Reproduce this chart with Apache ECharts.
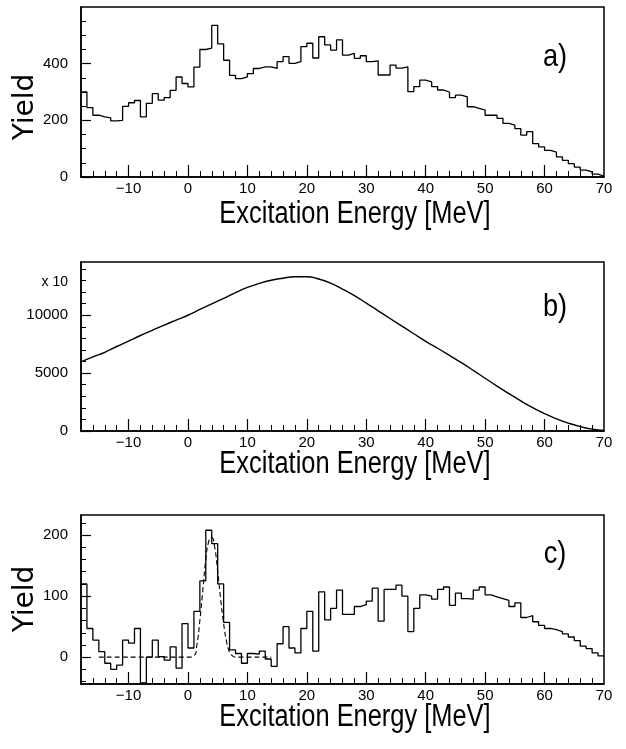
<!DOCTYPE html>
<html>
<head>
<meta charset="utf-8">
<script src="https://cdn.jsdelivr.net/npm/echarts@6/dist/echarts.min.js"></script>
<style>
  html, body { margin: 0; padding: 0; background: #fff; }
  #chart { width: 626px; height: 749px; }
</style>
</head>
<body>
<div id="chart"></div>
<script>
// bin low edges (1 MeV bins), last bin closes at 70
const binLow = [-18,-17,-16,-15,-14,-13,-12,-11,-10,-9,-8,-7,-6,-5,-4,-3,-2,-1,
  0,1,2,3,4,5,6,7,8,9,10,11,12,13,14,15,16,17,18,19,20,21,22,23,24,25,26,27,28,29,
  30,31,32,33,34,35,36,37,38,39,40,41,42,43,44,45,46,47,48,49,50,51,52,53,54,55,56,57,58,59,
  60,61,62,63,64,65,66,67,68,69]
const binEnd = 70

// a) measured spectrum
const yieldA = [300,245,218,212,209,198,200,249,262,270,212,260,294,271,280,306,353,330,
  318,388,450,455,535,470,412,359,347,353,365,383,389,389,383,407,425,401,407,460,472,420,
  495,466,448,484,430,436,419,428,407,410,360,360,395,384,389,301,319,342,336,319,307,300,
  280,289,283,248,242,236,218,218,207,189,183,171,148,160,118,106,94,88,71,59,47,35,24,18,10,3]

// b) background (x 10)
const bEnergy = [-18,-16,-14,-12,-10,-8,-6,-4,-2,0,2,4,6,8,10,12,14,16,18,20,22,24,26,28,30,
  32,34,36,38,40,42,44,46,48,50,52,54,56,58,60,62,64,66,68,70]
const bYield = [5970,6400,6800,7300,7770,8250,8700,9150,9580,10000,10500,10980,11450,11950,
  12400,12750,13020,13200,13320,13330,13130,12780,12250,11700,11050,10380,9720,9060,8400,
  7750,7150,6530,5900,5240,4560,3880,3230,2600,2020,1500,1050,680,380,160,40]

// c) after subtraction
const yieldC = [120,47,28,9,-10,-20,-13,28,23,47,-42,0,28,1,-5,17,-18,55,
  15,75,125,208,186,120,57,12,6,-10,6,5,10,-3,-15,22,50,15,7,47,75,10,
  107,61,80,110,70,70,83,86,92,113,59,111,111,118,100,42,80,102,100,95,111,115,
  85,105,96,95,110,115,102,99,96,93,83,89,65,68,58,52,47,45,42,38,33,27,18,14,7,2]

// c) peak fit (dashed)
const fitEnergy = [-15,0,1,1.5,2,2.5,3,3.5,4,4.5,5,5.5,6,6.5,7,7.5,8,14]
const fitYield = [0,0,2,20,60,110,160,190,196,180,140,95,55,25,8,2,0,0]

// axis ticks / labels
const xLabels = [-10,0,10,20,30,40,50,60,70]
const xMajor = [-10,0,10,20,30,40,50,60]
const xMinor = [-16,-14,-12,-8,-6,-4,-2,2,4,6,8,12,14,16,18,22,24,26,28,32,34,36,38,
  42,44,46,48,52,54,56,58,62,64,66,68]
const yLabelsA = [0,200,400]
const yMinorA = [50,100,150,250,300,350,450,500,550]
const yLabelsB = [0,5000,10000]
const yMinorB = [1000,2000,3000,4000,6000,7000,8000,9000,11000,12000,13000,14000]
const yLabelsC = [0,100,200]
const yMinorC = [-40,-20,20,40,60,80,120,140,160,180,220]

const numFont = '"Liberation Sans", Arial, sans-serif'

const grids = [
  { left: 81, right: 22, top: 7, height: 170 },
  { left: 81, right: 22, top: 262, height: 169 },
  { left: 81, right: 22, top: 515, height: 169 }
]
const yRanges = [[0, 600], [0, 14600], [-44, 233]]
const yLabels = [yLabelsA, yLabelsB, yLabelsC]
const yMinors = [yMinorA, yMinorB, yMinorC]

const steps = (ys) => {
  const pts = binLow.map((x, i) => [x, ys[i]])
  pts.push([binEnd, ys[ys.length - 1]])
  return pts
}

const xAxis = []
const yAxis = []
grids.forEach((g, i) => {
  xAxis.push({
    type: 'value', gridIndex: i, min: -18, max: 70, position: 'bottom',
    axisLine: { show: true, onZero: false, lineStyle: { color: '#000', width: 1.5 } },
    axisTick: { show: true, inside: true, length: 12, customValues: xMajor, lineStyle: { color: '#000', width: 1.2 } },
    axisLabel: {
      show: true, customValues: xLabels, color: '#000', fontSize: 15, margin: 4, fontFamily: numFont,
      formatter: v => (v < 0 ? '\u2212' + Math.abs(v) : String(v))
    },
    splitLine: { show: false }
  })
  xAxis.push({
    type: 'value', gridIndex: i, min: -18, max: 70, position: 'bottom',
    axisLine: { show: false, onZero: false },
    axisTick: { show: true, inside: true, length: 6, customValues: xMinor, lineStyle: { color: '#000', width: 1 } },
    axisLabel: { show: false },
    splitLine: { show: false }
  })
  yAxis.push({
    type: 'value', gridIndex: i, min: yRanges[i][0], max: yRanges[i][1], position: 'left',
    axisLine: { show: true, onZero: false, lineStyle: { color: '#000', width: 1.5 } },
    axisTick: { show: true, inside: true, length: 10, customValues: yLabels[i], lineStyle: { color: '#000', width: 1.2 } },
    axisLabel: {
      show: true, customValues: yLabels[i], color: '#000', fontSize: 15, margin: 13, fontFamily: numFont,
      formatter: v => String(v)
    },
    splitLine: { show: false }
  })
  yAxis.push({
    type: 'value', gridIndex: i, min: yRanges[i][0], max: yRanges[i][1], position: 'left',
    axisLine: { show: false, onZero: false },
    axisTick: { show: true, inside: true, length: 5, customValues: yMinors[i], lineStyle: { color: '#000', width: 1 } },
    axisLabel: { show: false },
    splitLine: { show: false }
  })
})

// condensed look of the original lettering: squeeze a regular face horizontally
const titleText = (y) => ({
  type: 'text', x: 355, y: y, scaleX: 0.82,
  style: { text: 'Excitation Energy [MeV]', font: '31px "Liberation Sans", sans-serif', fill: '#000', textAlign: 'center', textVerticalAlign: 'middle' }
})
const panelTag = (t, y) => ({
  type: 'text', x: 555, y: y, scaleX: 0.85,
  style: { text: t, font: '32px "Liberation Sans", sans-serif', fill: '#000', textAlign: 'center', textVerticalAlign: 'middle' }
})
const yieldText = (y) => ({
  type: 'text', x: 26, y: y, rotation: Math.PI / 2,
  style: { text: 'Yield', font: '28px "DejaVu Sans", sans-serif', fill: '#000', textAlign: 'center', textVerticalAlign: 'middle' }
})

const chart = echarts.init(document.getElementById('chart'), null, { renderer: 'canvas' })
chart.setOption({
  animation: false,
  backgroundColor: '#fff',
  grid: grids.map(g => Object.assign({ show: true, borderColor: '#000', borderWidth: 1.5, backgroundColor: 'transparent' }, g)),
  xAxis: xAxis,
  yAxis: yAxis,
  graphic: [
    titleText(214), titleText(464), titleText(717),
    panelTag('a)', 57), panelTag('b)', 307), panelTag('c)', 554),
    yieldText(107), yieldText(599),
    { type: 'text', x: 68, y: 282, style: { text: 'x 10', font: '14px ' + numFont, fill: '#000', textAlign: 'right', textVerticalAlign: 'middle' } }
  ],
  series: [
    {
      type: 'line', xAxisIndex: 0, yAxisIndex: 0, step: 'end', showSymbol: false,
      data: steps(yieldA), lineStyle: { color: '#000', width: 1.3 }
    },
    {
      type: 'line', xAxisIndex: 2, yAxisIndex: 2, smooth: true, showSymbol: false,
      data: bEnergy.map((x, i) => [x, bYield[i]]), lineStyle: { color: '#000', width: 1.4 }
    },
    {
      type: 'line', xAxisIndex: 4, yAxisIndex: 4, step: 'end', showSymbol: false,
      data: steps(yieldC), lineStyle: { color: '#000', width: 1.3 }
    },
    {
      type: 'line', xAxisIndex: 4, yAxisIndex: 4, smooth: true, showSymbol: false,
      data: fitEnergy.map((x, i) => [x, fitYield[i]]), lineStyle: { color: '#000', width: 1.1, type: [5, 3] }
    }
  ]
})
</script>
</body>
</html>
